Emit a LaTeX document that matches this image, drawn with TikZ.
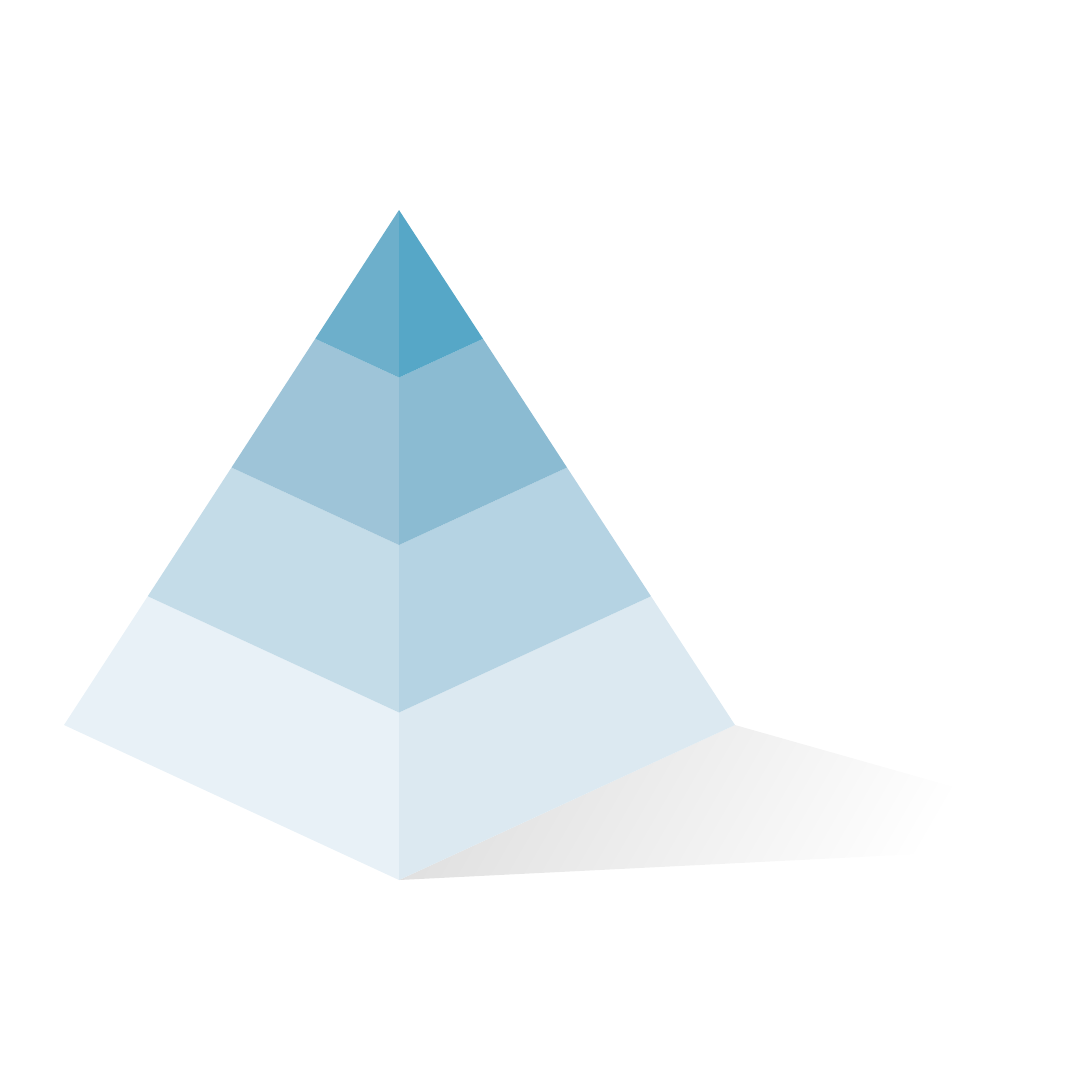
\documentclass[tikz,border=0pt]{standalone}
\usetikzlibrary{calc}
\definecolor{topL}{HTML}{6DAFCB}
\definecolor{topR}{HTML}{56A7C7}
\definecolor{secL}{HTML}{9EC4D8}
\definecolor{secR}{HTML}{8BBBD2}
\definecolor{thiL}{HTML}{C4DCE8}
\definecolor{thiR}{HTML}{B5D3E3}
\definecolor{botL}{HTML}{E8F1F7}
\definecolor{botR}{HTML}{DCE9F1}
\begin{document}
\begin{tikzpicture}[x=1pt,y=-1pt]
    \useasboundingbox (0,0) rectangle (1080,1080);
    % corners
    \coordinate (apex) at (399,210);
    \coordinate (left) at (64,725);
    \coordinate (right) at (735,725);
    \coordinate (bottom) at (399,880);
    % layer points
    \foreach \k in {1,2,3}{
        \coordinate (l\k) at ($(apex)!\k/4!(left)$);
        \coordinate (r\k) at ($(apex)!\k/4!(right)$);
        \coordinate (c\k) at ($(apex)!\k/4!(bottom)$);
    }
    %Shadow
    \shade [left color=black!12, right color=white, shading angle=60]
        (right) -- (1000,800) -- (1000,850) -- (bottom) -- cycle;
    %Bottom layer
    \fill [botL] (l3) -- (c3) -- (bottom) -- (left) -- cycle;
    \fill [botR] (r3) -- (c3) -- (bottom) -- (right) -- cycle;
    %Third layer
    \fill [thiL] (l2) -- (c2) -- (c3) -- (l3) -- cycle;
    \fill [thiR] (r2) -- (c2) -- (c3) -- (r3) -- cycle;
    %Second layer
    \fill [secL] (l1) -- (c1) -- (c2) -- (l2) -- cycle;
    \fill [secR] (r1) -- (c1) -- (c2) -- (r2) -- cycle;
    %Top layer
    \fill [topL] (apex) -- (c1) -- (l1) -- cycle;
    \fill [topR] (apex) -- (c1) -- (r1) -- cycle;
\end{tikzpicture}
\end{document}
